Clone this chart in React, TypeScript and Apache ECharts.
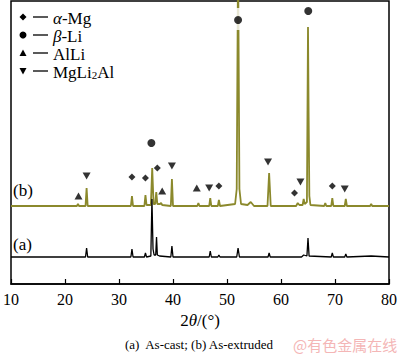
import React, { useEffect, useRef } from 'react';
import * as echarts from 'echarts';

// Trace (b) As-extruded: [2θ, intensity]
const traceB: [number, number][] = [
  [10, 78], [22.2, 78], [22.4, 80], [22.6, 78], [23.8, 78], [24.0, 96], [24.2, 78],
  [32.2, 78], [32.4, 88], [32.6, 78], [34.7, 78], [34.9, 89], [35.1, 79],
  [35.9, 79], [36.15, 116], [36.4, 80], [36.7, 80], [36.9, 92], [37.1, 80],
  [37.6, 80], [37.8, 81], [38.0, 79], [39.6, 78], [39.8, 105], [40.0, 78],
  [44.5, 78], [44.7, 81], [44.9, 78], [46.7, 78], [46.9, 86], [47.1, 78],
  [48.3, 78], [48.5, 84], [48.7, 78], [51.5, 80], [51.8, 95], [52.05, 330],
  [52.3, 95], [52.6, 80], [53.8, 79], [54.4, 82], [55.0, 78],
  [57.5, 78], [57.8, 111], [58.1, 78], [62.8, 78], [63.1, 81], [63.4, 79],
  [64.0, 79], [64.2, 85], [64.4, 80], [64.8, 82], [65.0, 257], [65.12, 167],
  [65.25, 88], [65.45, 79], [68.0, 78], [68.2, 81], [68.4, 78],
  [69.3, 78], [69.5, 86], [69.7, 78], [71.8, 78], [72.0, 85], [72.2, 78],
  [76.5, 78], [76.7, 80], [76.9, 78], [80, 78],
];

// Trace (a) As-cast
const traceA: [number, number][] = [
  [10, 27], [23.8, 27], [24.0, 36], [24.2, 27], [32.2, 27], [32.4, 35], [32.6, 27],
  [34.7, 27], [34.9, 31], [35.1, 27], [35.9, 28], [36.1, 85], [36.3, 35],
  [36.5, 29], [36.8, 29], [36.95, 47], [37.1, 29], [37.5, 28],
  [39.6, 27], [39.8, 38], [40.0, 27], [46.7, 27], [46.9, 33], [47.1, 27],
  [48.3, 27], [48.5, 29], [48.7, 27], [51.8, 27], [52.05, 36], [52.3, 27],
  [57.6, 27], [57.8, 31], [58.0, 27], [63.8, 27], [64.2, 29], [64.8, 28],
  [65.0, 46], [65.2, 28], [69.3, 27], [69.5, 31], [69.7, 27],
  [71.8, 27], [72.0, 30], [72.2, 27], [76.7, 28], [80, 27],
];

// Phase markers [2θ, height]
const alphaMg: [number, number][] = [[32.4, 107], [34.9, 106], [37.1, 116], [48.5, 98], [62.5, 91], [69.5, 98]];
const betaLi: [number, number][] = [[36.0, 141], [52.05, 264], [65.05, 273]];
const alLi: [number, number][] = [[22.5, 88], [38.0, 93], [44.4, 96]];
const mgLi2Al: [number, number][] = [[24.0, 108], [39.8, 118], [46.7, 96], [57.6, 122], [63.6, 102], [71.8, 95]];
const peakMask: [number, number][] = [[52.05, 265]];

const SERIF = 'Liberation Serif';
const OLIVE = '#8b892c';

export default function App() {
  const ref = useRef<HTMLDivElement>(null);
  useEffect(() => {
    const chart = echarts.init(ref.current!, null, { renderer: 'svg' });
    const legendRows = [17, 35, 53, 71];
    const mx = 23;
    const g: any[] = [];
    const y0 = legendRows[0], y1 = legendRows[1], y2 = legendRows[2], y3 = legendRows[3];
    g.push({ type: 'polygon', shape: { points: [[mx, y0 - 3.5], [mx + 3.5, y0], [mx, y0 + 3.5], [mx - 3.5, y0]] }, style: { fill: '#000' } });
    g.push({ type: 'circle', shape: { cx: mx, cy: y1, r: 3.5 }, style: { fill: '#000' } });
    g.push({ type: 'polygon', shape: { points: [[mx, y2 - 3.5], [mx + 3.5, y2 + 3], [mx - 3.5, y2 + 3]] }, style: { fill: '#000' } });
    g.push({ type: 'polygon', shape: { points: [[mx - 3.5, y3 - 3], [mx + 3.5, y3 - 3], [mx, y3 + 3.5]] }, style: { fill: '#000' } });
    legendRows.forEach((y) => {
      g.push({ type: 'line', shape: { x1: 33, y1: y, x2: 48, y2: y }, style: { stroke: '#000', lineWidth: 1.3 } });
    });
    const base = { fontFamily: SERIF, fontSize: 17, fill: '#000' };
    const rich = {
      n: { fontFamily: SERIF, fontSize: 17, color: '#000', lineHeight: 16 },
      i: { fontFamily: SERIF, fontSize: 17, color: '#000', fontStyle: 'italic', lineHeight: 16 },
      s: { fontFamily: SERIF, fontSize: 11, color: '#000', lineHeight: 10, verticalAlign: 'bottom' },
    };
    const legendTexts = ['{i|α}{n|-Mg}', '{i|β}{n|-Li}', '{n|AlLi}', '{n|MgLi}{s|2}{n|Al}'];
    legendTexts.forEach((t, k) => {
      g.push({ type: 'text', x: 53, y: legendRows[k] + 1, style: { ...base, text: t, rich, verticalAlign: 'middle', align: 'left' } });
    });
    g.push({ type: 'text', x: 13, y: 190, style: { ...base, text: '(b)', verticalAlign: 'middle' } });
    g.push({ type: 'text', x: 13, y: 244, style: { ...base, text: '(a)', verticalAlign: 'middle' } });
    g.push({ type: 'text', x: 125, y: 344, style: { fontFamily: SERIF, fontSize: 13, fill: '#000', text: '(a)  As-cast; (b) As-extruded', verticalAlign: 'middle' } });
    g.push({ type: 'text', x: 293, y: 344, style: { fontFamily: 'Noto Sans CJK SC', fontSize: 15, fill: '#f4b6b6', text: '@有色金属在线', verticalAlign: 'middle' } });

    chart.setOption({
      animation: false,
      backgroundColor: '#fff',
      textStyle: { fontFamily: SERIF },
      grid: { left: 6, right: 9, top: 1, bottom: 73, show: true, borderColor: '#000', borderWidth: 1.5, backgroundColor: 'transparent' },
      xAxis: {
        type: 'value', min: 10, max: 80, interval: 10,
        axisLine: { lineStyle: { color: '#000', width: 1.5 } },
        axisTick: { inside: true, length: 5, lineStyle: { color: '#000', width: 1.2 } },
        splitLine: { show: false },
        axisLabel: { fontFamily: SERIF, fontSize: 16, color: '#000', margin: 7 },
        name: '{n|2}{i|θ}{n|/(°)}',
        nameLocation: 'middle',
        nameGap: 20,
        nameTextStyle: {
          verticalAlign: 'top',
          fontFamily: SERIF,
          rich: {
            n: { fontFamily: SERIF, fontSize: 17, color: '#000' },
            i: { fontFamily: SERIF, fontSize: 17, color: '#000', fontStyle: 'italic' },
          },
        },
      },
      yAxis: { type: 'value', min: 0, max: 283, show: false, splitLine: { show: false } },
      series: [
        { type: 'line', data: traceB, showSymbol: false, symbol: 'none', clip: true, lineStyle: { color: OLIVE, width: 1.8 }, z: 2 },
        { type: 'line', data: traceA, showSymbol: false, symbol: 'none', clip: true, lineStyle: { color: '#000', width: 1.3 }, z: 3 },
        { type: 'scatter', data: peakMask, symbol: 'rect', symbolSize: [7, 22], itemStyle: { color: '#fff' }, z: 4 },
        { type: 'scatter', data: alphaMg, symbol: 'diamond', symbolSize: 7, itemStyle: { color: '#000' }, z: 5 },
        { type: 'scatter', data: betaLi, symbol: 'circle', symbolSize: 8, itemStyle: { color: '#000' }, z: 5 },
        { type: 'scatter', data: alLi, symbol: 'triangle', symbolSize: [8, 7], itemStyle: { color: '#000' }, z: 5 },
        { type: 'scatter', data: mgLi2Al, symbol: 'triangle', symbolRotate: 180, symbolSize: [8, 7], itemStyle: { color: '#000' }, z: 5 },
      ],
      graphic: g,
    });
    return () => chart.dispose();
  }, []);
  return <div ref={ref} style={{ position: 'absolute', left: 0, top: 0, width: 400, height: 357, background: '#fff' }} />;
}
